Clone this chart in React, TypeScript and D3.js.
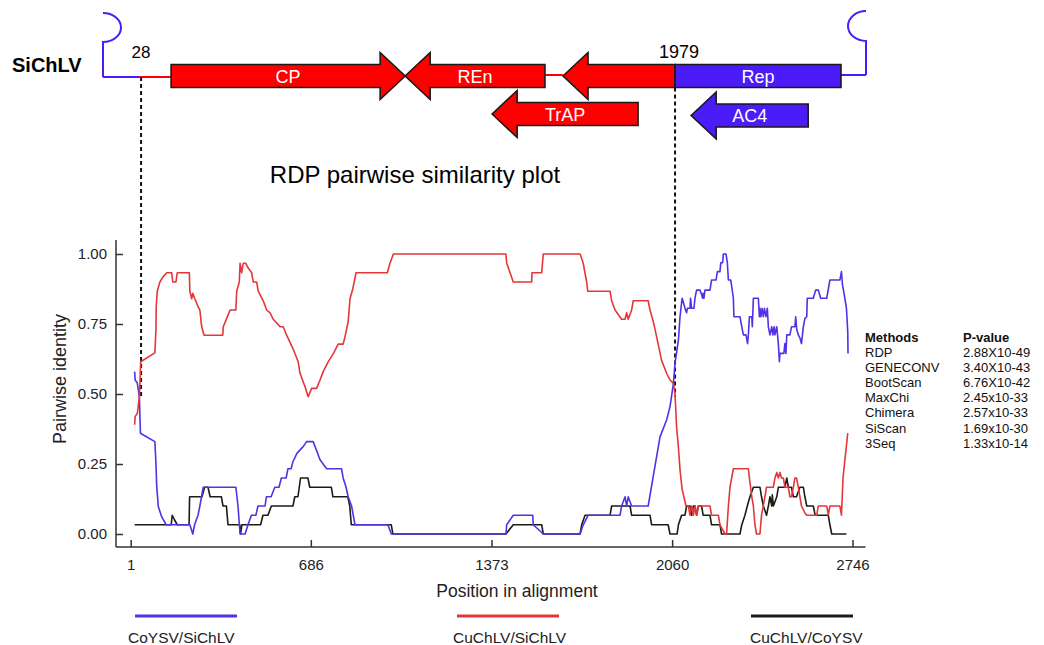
import React, { useEffect, useRef } from 'react'
import * as d3 from 'd3'

const width = 1044
const height = 645
const font = 'Liberation Sans, Arial, sans-serif'

// pairwise identity plot
const xTicks = [1, 686, 1373, 2060, 2746]
const yTicks = [0, 0.25, 0.5, 0.75, 1]

const seriesNames = ['CoYSV/SiChLV', 'CuChLV/SiChLV', 'CuChLV/CoYSV']
const seriesColors = ['#5430e6', '#e3373b', '#1c1c14']

// [position, identity]
const coysvSichlv: [number, number][] = [
  [16, 0.58], [18, 0.55], [26, 0.54], [34, 0.49], [38, 0.36], [93, 0.33], [97, 0.252], [100, 0.169],
  [106, 0.098], [119, 0.061], [136, 0.033], [226, 0.033], [237, 0], [244, 0.033], [257, 0.067], [264, 0.1],
  [277, 0.167], [401, 0.167], [409, 0.1], [417, 0], [436, 0], [447, 0.033], [460, 0.067], [477, 0.067],
  [485, 0.1], [512, 0.1], [517, 0.133], [535, 0.133], [549, 0.167], [565, 0.167], [574, 0.2], [592, 0.2],
  [599, 0.233], [611, 0.233], [618, 0.258], [633, 0.288], [657, 0.312], [670, 0.33], [695, 0.33], [721, 0.265],
  [746, 0.233], [803, 0.233], [809, 0.2], [820, 0.167], [828, 0.133], [841, 0.1], [854, 0.033], [979, 0.033],
  [992, 0], [1428, 0], [1431, 0.033], [1456, 0.067], [1530, 0.067], [1532, 0.033], [1570, 0], [1710, 0],
  [1722, 0.033], [1741, 0.067], [1862, 0.067], [1868, 0.1], [1881, 0.133], [1887, 0.1], [1893, 0.133], [1906, 0.1],
  [1969, 0.1], [1988, 0.205], [2014, 0.347], [2039, 0.407], [2052, 0.455], [2065, 0.538], [2071, 0.61], [2084, 0.693],
  [2090, 0.776], [2098, 0.842], [2105, 0.82], [2109, 0.806], [2115, 0.79], [2118, 0.806], [2128, 0.806], [2130, 0.842],
  [2134, 0.806], [2143, 0.806], [2147, 0.842], [2153, 0.871], [2166, 0.871], [2172, 0.855], [2176, 0.842], [2178, 0.86],
  [2181, 0.842], [2185, 0.871], [2204, 0.871], [2210, 0.907], [2227, 0.907], [2232, 0.937], [2242, 0.937], [2245, 0.969],
  [2252, 0.969], [2255, 1], [2265, 1], [2270, 0.969], [2274, 0.907], [2283, 0.907], [2293, 0.842], [2295, 0.776],
  [2318, 0.776], [2325, 0.74], [2331, 0.711], [2341, 0.711], [2347, 0.68], [2350, 0.711], [2354, 0.776], [2363, 0.776],
  [2365, 0.74], [2369, 0.842], [2388, 0.842], [2392, 0.776], [2394, 0.806], [2398, 0.776], [2402, 0.806], [2407, 0.776],
  [2411, 0.806], [2417, 0.776], [2422, 0.806], [2426, 0.74], [2432, 0.711], [2439, 0.74], [2443, 0.711], [2448, 0.74],
  [2451, 0.711], [2458, 0.74], [2464, 0.68], [2468, 0.615], [2470, 0.645], [2485, 0.645], [2489, 0.68], [2493, 0.645],
  [2496, 0.711], [2508, 0.711], [2514, 0.74], [2527, 0.74], [2530, 0.776], [2534, 0.73], [2540, 0.711], [2546, 0.7],
  [2552, 0.68], [2559, 0.74], [2565, 0.77], [2572, 0.776], [2574, 0.842], [2597, 0.842], [2606, 0.871], [2616, 0.871],
  [2625, 0.842], [2648, 0.842], [2660, 0.907], [2698, 0.907], [2704, 0.937], [2708, 0.89], [2717, 0.842], [2723, 0.806],
  [2728, 0.72], [2729, 0.645],
]

const cuchlvSichlv: [number, number][] = [
  [16, 0.39], [18, 0.42], [26, 0.43], [34, 0.49], [39, 0.615], [93, 0.647], [97, 0.73], [98, 0.81],
  [102, 0.867], [112, 0.9], [125, 0.92], [138, 0.933], [157, 0.933], [161, 0.9], [173, 0.9], [178, 0.933],
  [224, 0.933], [226, 0.867], [233, 0.84], [237, 0.86], [245, 0.84], [258, 0.81], [264, 0.8], [271, 0.74],
  [280, 0.71], [351, 0.71], [353, 0.74], [366, 0.77], [379, 0.8], [401, 0.8], [404, 0.867], [414, 0.9],
  [417, 0.967], [423, 0.933], [429, 0.967], [438, 0.967], [448, 0.95], [461, 0.933], [467, 0.9], [480, 0.9],
  [486, 0.867], [505, 0.833], [518, 0.8], [531, 0.79], [543, 0.767], [569, 0.74], [581, 0.74], [594, 0.71],
  [619, 0.66], [638, 0.615], [645, 0.574], [664, 0.526], [676, 0.49], [689, 0.52], [708, 0.52], [721, 0.55],
  [733, 0.58], [752, 0.615], [772, 0.645], [790, 0.678], [809, 0.678], [816, 0.705], [828, 0.758], [835, 0.84],
  [845, 0.873], [858, 0.933], [977, 0.933], [987, 0.967], [1000, 1], [1428, 1], [1431, 0.967], [1456, 0.9],
  [1526, 0.9], [1527, 0.933], [1564, 0.933], [1570, 1], [1710, 1], [1722, 0.967], [1735, 0.9], [1739, 0.867],
  [1824, 0.867], [1830, 0.833], [1843, 0.8], [1868, 0.767], [1881, 0.767], [1887, 0.79], [1893, 0.767], [1906, 0.8],
  [1912, 0.833], [1969, 0.833], [1976, 0.8], [1988, 0.76], [2001, 0.705], [2020, 0.62], [2039, 0.574], [2052, 0.55],
  [2065, 0.538], [2071, 0.5], [2077, 0.383], [2084, 0.31], [2090, 0.23], [2098, 0.16], [2113, 0.1], [2122, 0.1],
  [2128, 0.067], [2134, 0.1], [2141, 0.067], [2147, 0.1], [2153, 0.067], [2160, 0.1], [2204, 0.1], [2210, 0.067],
  [2236, 0.067], [2242, 0.033], [2261, 0], [2267, 0], [2274, 0.1], [2280, 0.167], [2293, 0.233], [2350, 0.233],
  [2354, 0.2], [2363, 0.133], [2369, 0.1], [2375, 0.033], [2381, 0], [2394, 0], [2400, 0.067], [2413, 0.133],
  [2419, 0.167], [2445, 0.167], [2451, 0.2], [2458, 0.22], [2464, 0.2], [2470, 0.22], [2476, 0.2], [2483, 0.2],
  [2489, 0.167], [2502, 0.167], [2508, 0.133], [2514, 0.133], [2521, 0.167], [2527, 0.2], [2533, 0.2], [2540, 0.167],
  [2546, 0.133], [2552, 0.1], [2565, 0.075], [2572, 0.067], [2610, 0.067], [2616, 0.1], [2648, 0.1], [2654, 0.067],
  [2660, 0.1], [2698, 0.1], [2704, 0.067], [2710, 0.2], [2717, 0.264], [2728, 0.36],
]

const cuchlvCoysv: [number, number][] = [
  [16, 0.033], [155, 0.033], [159, 0.067], [168, 0.05], [178, 0.033], [223, 0.033], [225, 0.133], [272, 0.133],
  [282, 0.167], [295, 0.167], [303, 0.133], [346, 0.133], [352, 0.1], [365, 0.1], [371, 0.033], [416, 0.033],
  [419, 0], [424, 0.033], [495, 0.033], [504, 0.067], [523, 0.067], [536, 0.1], [618, 0.1], [625, 0.133],
  [637, 0.133], [647, 0.2], [675, 0.2], [682, 0.167], [764, 0.167], [770, 0.133], [827, 0.133], [834, 0.1],
  [840, 0.033], [992, 0.033], [998, 0], [1428, 0], [1456, 0.033], [1564, 0.033], [1570, 0], [1710, 0],
  [1716, 0.033], [1729, 0.067], [1824, 0.067], [1830, 0.1], [1900, 0.1], [1906, 0.067], [1976, 0.067], [1982, 0.033],
  [2045, 0.033], [2052, 0], [2079, 0], [2084, 0.033], [2096, 0.067], [2109, 0.067], [2115, 0.1], [2128, 0.1],
  [2134, 0.067], [2141, 0.1], [2147, 0.1], [2153, 0.067], [2160, 0.1], [2172, 0.1], [2178, 0.067], [2204, 0.067],
  [2210, 0.033], [2242, 0.033], [2248, 0], [2318, 0], [2325, 0.033], [2337, 0.067], [2346, 0.1], [2356, 0.133],
  [2369, 0.167], [2394, 0.167], [2400, 0.133], [2407, 0.1], [2419, 0.067], [2426, 0.1], [2432, 0.133], [2439, 0.1],
  [2441, 0.14], [2445, 0.1], [2458, 0.133], [2464, 0.167], [2489, 0.167], [2496, 0.2], [2502, 0.167], [2514, 0.167],
  [2521, 0.133], [2533, 0.133], [2546, 0.167], [2559, 0.167], [2565, 0.133], [2572, 0.1], [2597, 0.1], [2604, 0.067],
  [2654, 0.067], [2660, 0.033], [2667, 0], [2723, 0],
]

const methods = ['RDP', 'GENECONV', 'BootScan', 'MaxChi', 'Chimera', 'SiScan', '3Seq']
const pValues = ['2.88X10-49', '3.40X10-43', '6.76X10-42', '2.45x10-33', '2.57x10-33', '1.69x10-30', '1.33x10-14']

// genome map of SiChLV (schematic coordinates)
const geneNames = ['CP', 'REn', '', 'Rep', 'TrAP', 'AC4']
const geneStart = [246, 1088, 1656, 2059, 1401, 2117]
const geneEnd = [1088, 1591, 2059, 2656, 1926, 2538]
const geneStrand = [1, -1, -1, 0, -1, -1]
const geneRow = [0, 0, 0, 0, 1, 1]
const geneParent = ['CuChLV', 'CuChLV', 'CuChLV', 'CoYSV', 'CuChLV', 'CoYSV']

const linkStart = [1, 134, 1591, 2656]
const linkEnd = [134, 246, 1656, 2746]
const linkParent = ['CoYSV', 'CuChLV', 'CuChLV', 'CoYSV']

const breakLabels = ['28', '1979']
const breakMapPos = [138, 2059]

const parentColor: Record<string, string> = { CoYSV: '#4b1cf8', CuChLV: '#ff0000' }

const App = () => {
  const ref = useRef<SVGSVGElement>(null)

  useEffect(() => {
    if (!ref.current) return
    const svg = d3.select(ref.current)
    svg.selectAll('*').remove()

    // ---------- genome map ----------
    const mapX = d3.scaleLinear().domain([1, 2746]).range([103, 866])
    const rowY = [76, 114]
    const bar = 11.5
    const headH = 23.5
    const headL = 25

    const map = svg.append('g')

    map.append('text')
      .attr('x', 12).attr('y', 72)
      .attr('font-family', font).attr('font-size', 20).attr('font-weight', 'bold')
      .text('SiChLV')

    // ends of the circular genome
    const l0 = mapX(1)
    const r0 = mapX(2746)
    map.append('path')
      .attr('d', `M${l0},${rowY[0] + 1} L${l0},42 A18 14.5 0 0 0 ${l0} 13`)
      .attr('fill', 'none').attr('stroke', parentColor.CoYSV).attr('stroke-width', 2)
    map.append('path')
      .attr('d', `M${r0},${rowY[0] - 1} L${r0},41 A18 15 0 0 1 ${r0} 11`)
      .attr('fill', 'none').attr('stroke', parentColor.CoYSV).attr('stroke-width', 2)

    linkStart.forEach((s, i) => {
      map.append('line')
        .attr('x1', mapX(s)).attr('x2', mapX(linkEnd[i]))
        .attr('y1', rowY[0] + (i < 2 ? 1 : -1)).attr('y2', rowY[0] + (i < 2 ? 1 : -1))
        .attr('stroke', parentColor[linkParent[i]]).attr('stroke-width', 2)
    })

    // dashed breakpoint lines
    const x = d3.scaleLinear().domain([1, 2746]).range([130.7, 852.5])
    const y = d3.scaleLinear().domain([0, 1]).range([534, 254])

    breakMapPos.forEach((p, i) => {
      map.append('line')
        .attr('x1', mapX(p)).attr('x2', mapX(p))
        .attr('y1', i === 0 ? rowY[0] + 1 : rowY[0] + bar)
        .attr('y2', y(0.49))
        .attr('stroke', '#111').attr('stroke-width', 2).attr('stroke-dasharray', '4,3')
      map.append('text')
        .attr('x', mapX(p) + (i === 0 ? 0 : 4)).attr('y', 58)
        .attr('text-anchor', 'middle')
        .attr('font-family', font).attr('font-size', i === 0 ? 17 : 18)
        .text(breakLabels[i])
    })

    geneNames.forEach((name, i) => {
      const x0 = mapX(geneStart[i])
      const x1 = mapX(geneEnd[i])
      const cy = rowY[geneRow[i]] + (geneParent[i] === 'CoYSV' && geneRow[i] === 1 ? 1.5 : 0)
      let pts: [number, number][]
      if (geneStrand[i] === 1) {
        pts = [[x0, cy - bar], [x1 - headL, cy - bar], [x1 - headL, cy - headH], [x1, cy],
          [x1 - headL, cy + headH], [x1 - headL, cy + bar], [x0, cy + bar]]
      } else if (geneStrand[i] === -1) {
        pts = [[x1, cy - bar], [x0 + headL, cy - bar], [x0 + headL, cy - headH], [x0, cy],
          [x0 + headL, cy + headH], [x0 + headL, cy + bar], [x1, cy + bar]]
      } else {
        pts = [[x0, cy - bar], [x1, cy - bar], [x1, cy + bar], [x0, cy + bar]]
      }
      map.append('polygon')
        .attr('points', pts.map(p => p.join(',')).join(' '))
        .attr('fill', parentColor[geneParent[i]])
        .attr('stroke', '#1a1a1a').attr('stroke-width', 1.6)
        .attr('stroke-linejoin', 'miter')
      if (name) {
        map.append('text')
          .attr('x', (x0 + x1) / 2).attr('y', cy + 6.5)
          .attr('text-anchor', 'middle')
          .attr('font-family', font).attr('font-size', 18).attr('fill', '#fff')
          .text(name)
      }
    })

    svg.append('text')
      .attr('x', 415).attr('y', 183)
      .attr('text-anchor', 'middle')
      .attr('font-family', font).attr('font-size', 24)
      .text('RDP pairwise similarity plot')

    // ---------- similarity plot ----------
    const plot = svg.append('g')

    // axis lines
    plot.append('line')
      .attr('x1', x(1) - 14.7).attr('x2', x(1) - 14.7)
      .attr('y1', y(1) - 14).attr('y2', y(0) + 13)
      .attr('stroke', '#333').attr('stroke-width', 1.5)
    plot.append('line')
      .attr('x1', x(1) - 14.7).attr('x2', x(2746) + 13)
      .attr('y1', y(0) + 13).attr('y2', y(0) + 13)
      .attr('stroke', '#333').attr('stroke-width', 1.5)

    const yAxis = d3.axisLeft(y)
      .tickValues(yTicks)
      .tickFormat(d3.format('.2f'))
      .tickSizeInner(-7)
      .tickSizeOuter(0)
      .tickPadding(9)
    plot.append('g')
      .attr('transform', `translate(${x(1) - 14.7},0)`)
      .call(yAxis)
      .call(g => g.select('.domain').remove())
      .call(g => g.selectAll('line').attr('stroke', '#333').attr('stroke-width', 1.5))
      .call(g => g.selectAll('text').attr('font-size', 15).attr('font-family', font).attr('fill', '#222'))

    const xAxis = d3.axisBottom(x)
      .tickValues(xTicks)
      .tickFormat(d3.format('d'))
      .tickSizeInner(-7)
      .tickSizeOuter(0)
      .tickPadding(12)
    plot.append('g')
      .attr('transform', `translate(0,${y(0) + 13})`)
      .call(xAxis)
      .call(g => g.select('.domain').remove())
      .call(g => g.selectAll('line').attr('stroke', '#333').attr('stroke-width', 1.5))
      .call(g => g.selectAll('text').attr('font-size', 15).attr('font-family', font).attr('fill', '#222'))

    plot.append('text')
      .attr('transform', `translate(66,379) rotate(-90)`)
      .attr('text-anchor', 'middle')
      .attr('font-family', font).attr('font-size', 18).attr('fill', '#222')
      .text('Pairwise identity')

    plot.append('text')
      .attr('x', 517).attr('y', 597)
      .attr('text-anchor', 'middle')
      .attr('font-family', font).attr('font-size', 17.5).attr('fill', '#222')
      .text('Position in alignment')

    const line = d3.line<[number, number]>()
      .x(d => x(d[0]))
      .y(d => y(d[1]))

    const series = [coysvSichlv, cuchlvSichlv, cuchlvCoysv]
    const drawOrder = [2, 0, 1]
    drawOrder.forEach(i => {
      plot.append('path')
        .datum(series[i])
        .attr('d', line)
        .attr('fill', 'none')
        .attr('stroke', seriesColors[i])
        .attr('stroke-width', 1.6)
        .attr('stroke-linejoin', 'round')
    })

    // legend
    const legendX = [135, 457, 751]
    const labelX = [128, 453, 750]
    seriesNames.forEach((name, i) => {
      plot.append('line')
        .attr('x1', legendX[i]).attr('x2', legendX[i] + 102)
        .attr('y1', 616).attr('y2', 616)
        .attr('stroke', seriesColors[i]).attr('stroke-width', 3)
      plot.append('text')
        .attr('x', labelX[i]).attr('y', 643)
        .attr('font-family', font).attr('font-size', 15.5).attr('fill', '#222')
        .text(name)
    })

    // methods table
    const table = svg.append('g').attr('font-family', font).attr('font-size', 13).attr('fill', '#111')
    table.append('text').attr('x', 865).attr('y', 341.5).attr('font-weight', 'bold').text('Methods')
    table.append('text').attr('x', 963).attr('y', 341.5).attr('font-weight', 'bold').text('P-value')
    methods.forEach((m, i) => {
      table.append('text').attr('x', 865).attr('y', 357 + i * 15.1).text(m)
      table.append('text').attr('x', 963).attr('y', 357 + i * 15.1).text(pValues[i])
    })
  }, [])

  return (
    <svg
      ref={ref}
      width={width}
      height={height}
      style={{ position: 'absolute', left: 0, top: 0, background: '#fff' }}
    ></svg>
  )
}

export default App
